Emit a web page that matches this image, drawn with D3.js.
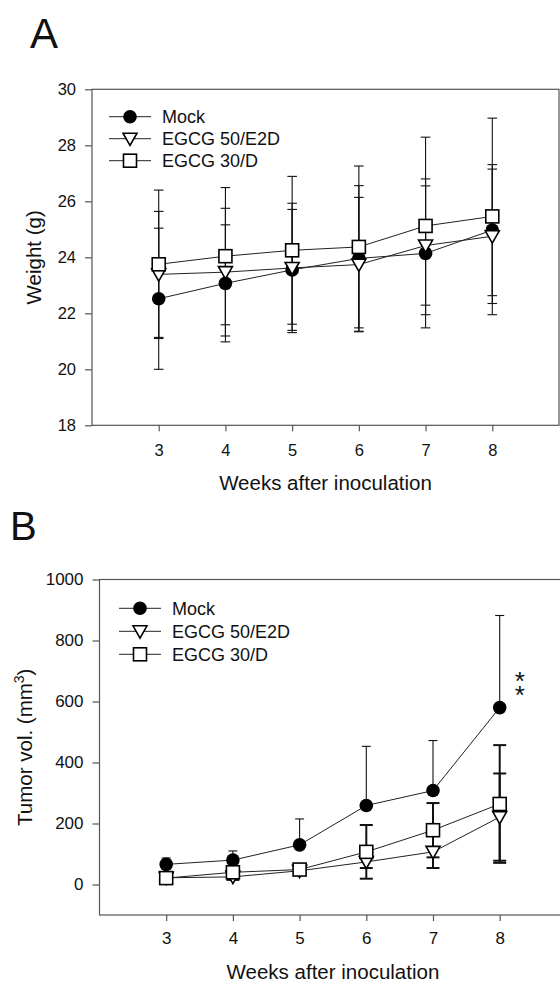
<!DOCTYPE html>
<html>
<head>
<meta charset="utf-8">
<script src="https://cdn.jsdelivr.net/npm/d3@7"></script>
<style>
body{margin:0;background:#fff}
svg{display:block}
text{font-family:"Liberation Sans",Arial,sans-serif;fill:#111}
</style>
</head>
<body>
<svg id="fig" width="560" height="983"></svg>
<script>
var weeks = [3,4,5,6,7,8];
var names = ["Mock","EGCG 50/E2D","EGCG 30/D"];
var kinds = ["circle","tri","square"];

// A: body weight (g), mean and SD
var wMock = [22.52,23.07,23.55,23.96,24.14,24.97];
var wMockSd = [2.52,2.09,2.16,2.60,2.66,2.34];
var wE2D = [23.39,23.47,23.62,23.74,24.42,24.75];
var wE2DSd = [2.25,2.28,2.31,2.40,2.13,2.40];
var wD = [23.75,24.04,24.25,24.37,25.12,25.46];
var wDSd = [2.65,2.45,2.64,2.89,3.17,3.51];
var wTicks = [18,20,22,24,26,28,30];

// B: tumor volume (mm3), mean and SD
var vMock = [66,80,130,259,308,580];
var vMockSd = [21,30,85,194,164,302];
var vE2D = [22,25,45,74,107,221];
var vE2DSd = [8,10,12,20,53,143];
var vD = [21,40,49,107,178,264];
var vDSd = [10,12,15,88,89,193];
var vTicks = [0,200,400,600,800,1000];

var svg = d3.select("#fig");

function drawMarker(g, kind){
	if(kind == "circle"){
		g.append("circle").attr("r",6.8).attr("fill","#000");
	}else if(kind == "tri"){
		g.append("path").attr("d","M-7,-5.5L7,-5.5L0,6.8Z")
		.attr("fill","#fff").attr("stroke","#000").attr("stroke-width",1.6);
	}else{
		g.append("rect").attr("x",-6.5).attr("y",-6.5).attr("width",13).attr("height",13)
		.attr("fill","#fff").attr("stroke","#000").attr("stroke-width",1.6);
	}
}

function panel(p){
	var x = d3.scaleLinear().domain([2,9]).range([p.left,p.right]);
	var y = d3.scaleLinear().domain(p.yDomain).range([p.bottom,p.top]);
	var g = svg.append("g");

	// frame
	g.append("rect").attr("x",p.left).attr("y",p.top)
	.attr("width",p.right-p.left).attr("height",p.bottom-p.top)
	.attr("fill","none").attr("stroke","#555").attr("stroke-width",1.2);

	var ya = g.append("g").attr("transform","translate("+p.left+",0)")
	.call(d3.axisLeft(y).tickValues(p.yTicks).tickFormat(d3.format("d"))
		.tickSize(7).tickPadding(p.yPad).tickSizeOuter(0));
	var xa = g.append("g").attr("transform","translate(0,"+p.bottom+")")
	.call(d3.axisBottom(x).tickValues(weeks).tickFormat(d3.format("d"))
		.tickSize(6).tickPadding(p.xPad).tickSizeOuter(0));
	[ya,xa].forEach(function(a){
		a.select(".domain").remove();
		a.selectAll("line").attr("stroke","#555").attr("stroke-width",1.2);
		a.selectAll("text").attr("font-size",p.tickFont).attr("fill","#111")
		.style("font-family","Liberation Sans, Arial, sans-serif");
	});

	// connecting lines
	var line = d3.line().x(function(d,i){return x(weeks[i]);}).y(function(d){return y(d);});
	p.series.forEach(function(s){
		g.append("path").attr("d",line(s.mean)).attr("fill","none")
		.attr("stroke","#222").attr("stroke-width",1);
	});

	// error bars
	p.series.forEach(function(s){
		s.mean.forEach(function(m,i){
			var cx = x(weeks[i]);
			var hi = m + s.sd[i], lo = m - s.sd[i];
			var y0 = s.upOnly ? y(m) : y(lo);
			g.append("line").attr("x1",cx).attr("x2",cx).attr("y1",y0).attr("y2",y(hi))
			.attr("stroke","#111").attr("stroke-width",s.bw);
			var caps = s.upOnly ? [hi] : [hi,lo];
			caps.forEach(function(c){
				g.append("line").attr("x1",cx-s.cap).attr("x2",cx+s.cap)
				.attr("y1",y(c)).attr("y2",y(c))
				.attr("stroke","#111").attr("stroke-width",s.bw);
			});
		});
	});

	// markers
	p.series.forEach(function(s){
		s.mean.forEach(function(m,i){
			var mg = g.append("g").attr("transform","translate("+x(weeks[i])+","+y(m)+")");
			drawMarker(mg,s.kind);
		});
	});

	// legend
	names.forEach(function(n,i){
		var ly = p.legY + i*p.legStep;
		g.append("line").attr("x1",p.legX).attr("x2",p.legX+42).attr("y1",ly).attr("y2",ly)
		.attr("stroke","#222").attr("stroke-width",1);
		var mg = g.append("g").attr("transform","translate("+(p.legX+21)+","+ly+")");
		drawMarker(mg,kinds[i]);
		g.append("text").attr("x",p.legX+53).attr("y",ly+6.5).attr("font-size",18).text(n);
	});

	// axis titles
	g.append("text").attr("x",x(5.5)).attr("y",p.xTitleY).attr("text-anchor","middle")
	.attr("font-size",20.5).text("Weeks after inoculation");
	var yt = g.append("text").attr("text-anchor","middle").attr("font-size",20.5)
	.attr("transform","translate("+p.yTitleX+","+((p.top+p.bottom)/2)+") rotate(-90)");
	yt.append("tspan").text(p.yTitle);
	if(p.sup){
		yt.append("tspan").attr("font-size",14).attr("dy",-8).text(p.sup);
		yt.append("tspan").attr("dy",8).text(")");
	}

	g.append("text").attr("x",p.letterX).attr("y",p.letterY).attr("font-size",p.letterSize).text(p.letter);
	return {x:x,y:y,g:g};
}

panel({
	left:92, right:559, top:89.3, bottom:425.3,
	yDomain:[18,30], yTicks:wTicks, yPad:9, xPad:13, tickFont:16.5,
	series:[
		{mean:wMock, sd:wMockSd, kind:"circle", bw:1.1, cap:4.8},
		{mean:wE2D, sd:wE2DSd, kind:"tri", bw:1.1, cap:4.8},
		{mean:wD, sd:wDSd, kind:"square", bw:1.1, cap:4.8}
	],
	legX:109, legY:116.7, legStep:22,
	xTitleY:490, yTitleX:41, yTitle:"Weight (g)",
	letter:"A", letterX:30, letterY:48.3, letterSize:42
});

var pb = panel({
	left:99.5, right:566.4, top:579.5, bottom:915,
	yDomain:[-100,1000], yTicks:vTicks, yPad:9, xPad:11, tickFont:17,
	series:[
		{mean:vMock, sd:vMockSd, kind:"circle", bw:1.1, cap:4.5, upOnly:true},
		{mean:vE2D, sd:vE2DSd, kind:"tri", bw:2, cap:6.5},
		{mean:vD, sd:vDSd, kind:"square", bw:2, cap:6.5}
	],
	legX:119, legY:608.3, legStep:23,
	xTitleY:979, yTitleX:32, yTitle:"Tumor vol. (mm", sup:"3",
	letter:"B", letterX:10, letterY:540, letterSize:40
});

// significance mark at week 8, two stacked asterisks in one text
var star = pb.g.append("text").attr("text-anchor","middle").attr("font-size",26);
[0,1].forEach(function(k){
	star.append("tspan").attr("x",pb.x(8)+20).attr("y",690+k*13.5).text("*");
});
</script>
</body>
</html>
